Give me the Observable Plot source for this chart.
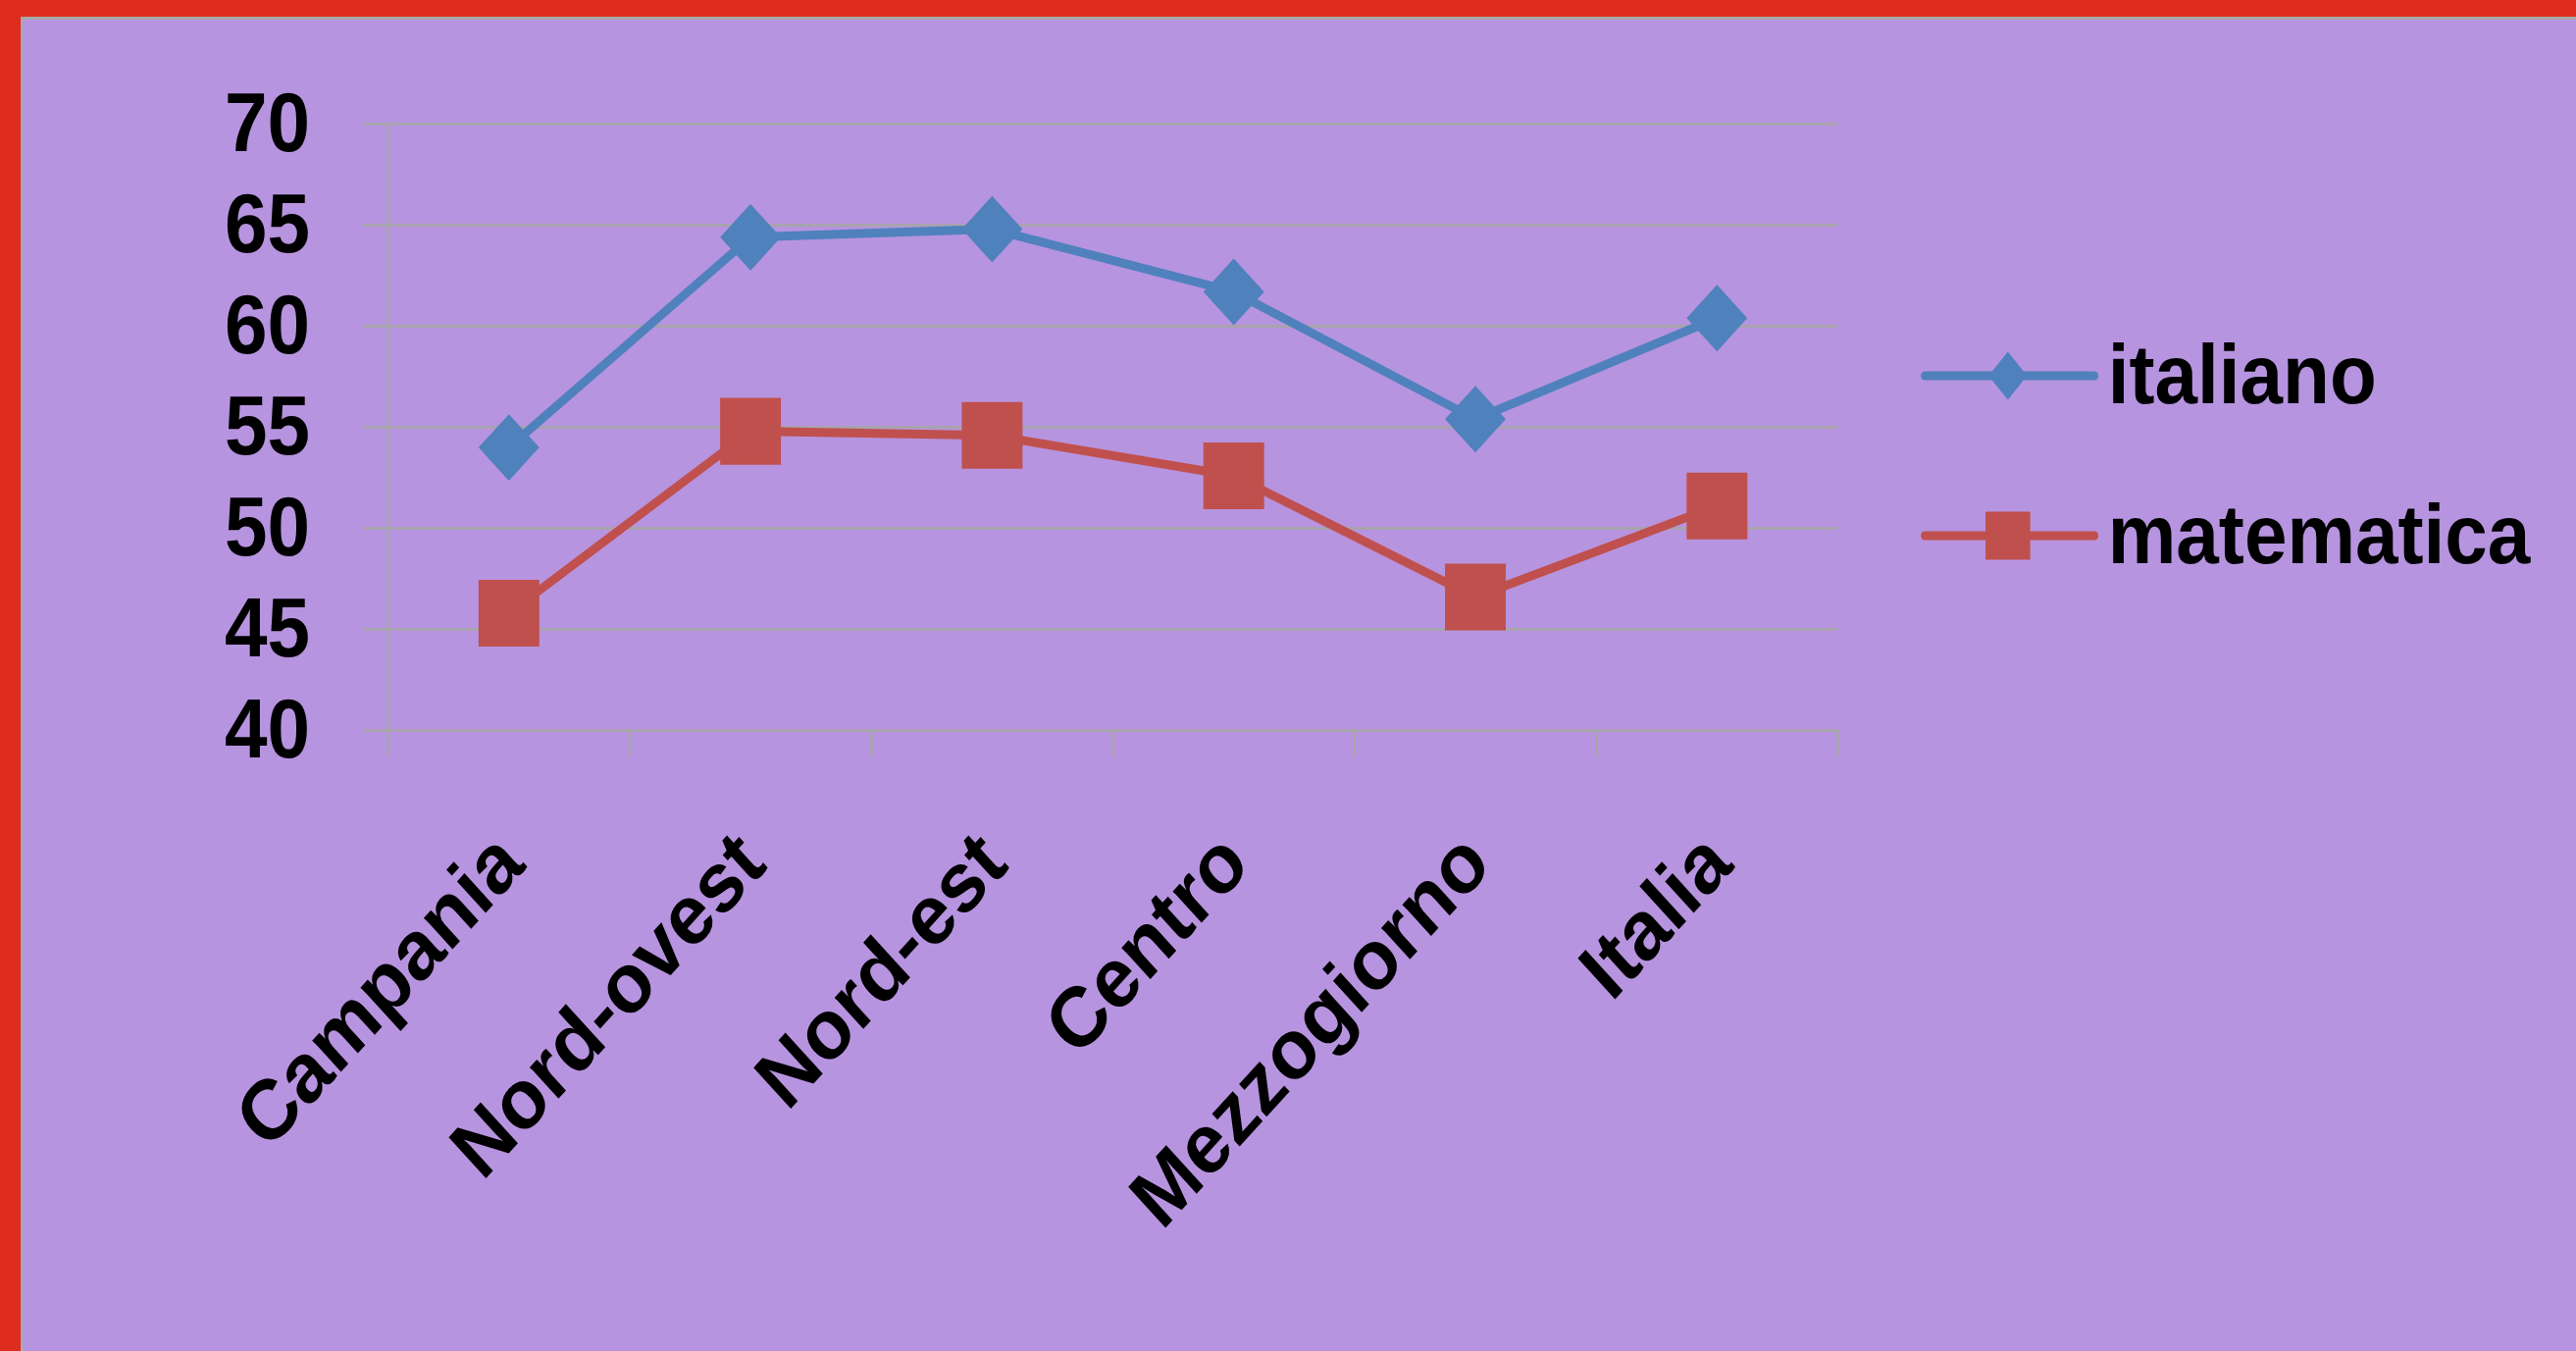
<!DOCTYPE html>
<html>
<head>
<meta charset="utf-8">
<script src="https://cdn.jsdelivr.net/npm/d3@7"></script>
<script src="https://cdn.jsdelivr.net/npm/@observablehq/plot@0.6"></script>
<style>
  html, body { margin: 0; padding: 0; overflow: hidden; background: #B794DF; }
  #frame { position: absolute; left: 0; top: 0; width: 2626px; height: 1377px; box-sizing: border-box;
           border-top: 17px solid #DE2C1E; border-left: 21px solid #DE2C1E; overflow: hidden; }
  #inner { position: absolute; left: 0; top: 0; right: 0; bottom: 0;
           border-top: 3px solid #A8A8A8; border-left: 2px solid #A8A8A8; overflow: hidden; }
  #chart { position: absolute; left: 0; top: 0; width: 2860px; height: 1357px;
           transform: scaleX(0.91); transform-origin: 0 0;
           font-family: "Liberation Sans", Arial, sans-serif; }
  #chart svg { position: absolute; left: 0; top: 0; }
</style>
</head>
<body>
<div id="frame"><div id="inner"><div id="chart"></div></div></div>
<script>
// ---- data ----
const categories = ["Campania", "Nord-ovest", "Nord-est", "Centro", "Mezzogiorno", "Italia"];
const italiano   = [54.0, 64.4, 64.8, 61.7, 55.4, 60.4];
const matematica = [45.8, 54.8, 54.6, 52.6, 46.6, 51.1];
const yTicks = [40, 45, 50, 55, 60, 65, 70];
const seriesNames = ["italiano", "matematica"];
const seriesColors = ["#4F81BD", "#C0504D"];

const data = categories.flatMap((c, i) => [
  {i, cat: c, series: seriesNames[0], value: italiano[i]},
  {i, cat: c, series: seriesNames[1], value: matematica[i]}
]);
const edges = d3.range(-0.5, categories.length, 1);
const gridColor = "#A6A6A6";
const font = "Liberation Sans, Arial, sans-serif";

const chart = Plot.plot({
  width: 2860,
  height: 1357,
  marginLeft: 409,
  marginRight: 827,
  marginTop: 106,
  marginBottom: 633,
  style: {background: "transparent", fontFamily: font, overflow: "visible"},
  x: {type: "linear", domain: [-0.5, categories.length - 0.5]},
  y: {domain: [40, 70]},
  color: {domain: seriesNames, range: seriesColors},
  marks: [
    Plot.gridY(yTicks, {stroke: gridColor, strokeOpacity: 1, strokeWidth: 2.5}),
    Plot.axisY(yTicks, {tickSize: 27.5, stroke: gridColor, strokeWidth: 2.5, tickPadding: 60,
                        fontSize: 86, fontWeight: "bold", fill: "black", label: null}),
    Plot.ruleX([-0.5], {stroke: gridColor, strokeWidth: 2.5}),
    Plot.ruleX(edges, {x: d => d, y1: 40, y2: 40, insetBottom: -27, stroke: gridColor, strokeWidth: 2.5}),
    Plot.axisX(d3.range(categories.length), {tickSize: 0, tickFormat: i => categories[i], tickRotate: -45,
                        textAnchor: "end", lineAnchor: "middle", tickPadding: 120, dx: 1,
                        fontSize: 86, fontWeight: "bold", fill: "black", label: null}),
    Plot.lineY(data, {x: "i", y: "value", z: "series", stroke: "series", strokeWidth: 9}),
    Plot.dot(data.filter(d => d.series === seriesNames[0]), {x: "i", y: "value", symbol: "diamond2", r: 30.6, fill: "series"}),
    Plot.dot(data.filter(d => d.series === seriesNames[1]), {x: "i", y: "value", symbol: "square", r: 38.4, fill: "series"})
  ]
});
document.getElementById("chart").appendChild(chart);

// ---- legend ----
const legendRows = [
  {name: seriesNames[0], color: seriesColors[0], shape: "diamond", y: 363},
  {name: seriesNames[1], color: seriesColors[1], shape: "square", y: 526}
];
const lg = d3.select("#chart").append("svg")
  .attr("width", 2860).attr("height", 1357);
for (const r of legendRows) {
  const g = lg.append("g");
  g.append("line").attr("x1", 2131).attr("x2", 2321).attr("y1", r.y).attr("y2", r.y)
    .attr("stroke", r.color).attr("stroke-width", 9).attr("stroke-linecap", "round");
  const cx = 2224;
  if (r.shape === "diamond") {
    g.append("path").attr("d", `M${cx},${r.y - 24.5}L${cx + 21.5},${r.y}L${cx},${r.y + 24.5}L${cx - 21.5},${r.y}Z`)
      .attr("fill", r.color);
  } else {
    g.append("rect").attr("x", cx - 25).attr("y", r.y - 24.5).attr("width", 50).attr("height", 49)
      .attr("fill", r.color);
  }
  g.append("text").attr("x", 2336).attr("y", r.y + 28).text(r.name)
    .attr("font-family", font).attr("font-size", 86).attr("font-weight", "bold").attr("fill", "black");
}
</script>
</body>
</html>
